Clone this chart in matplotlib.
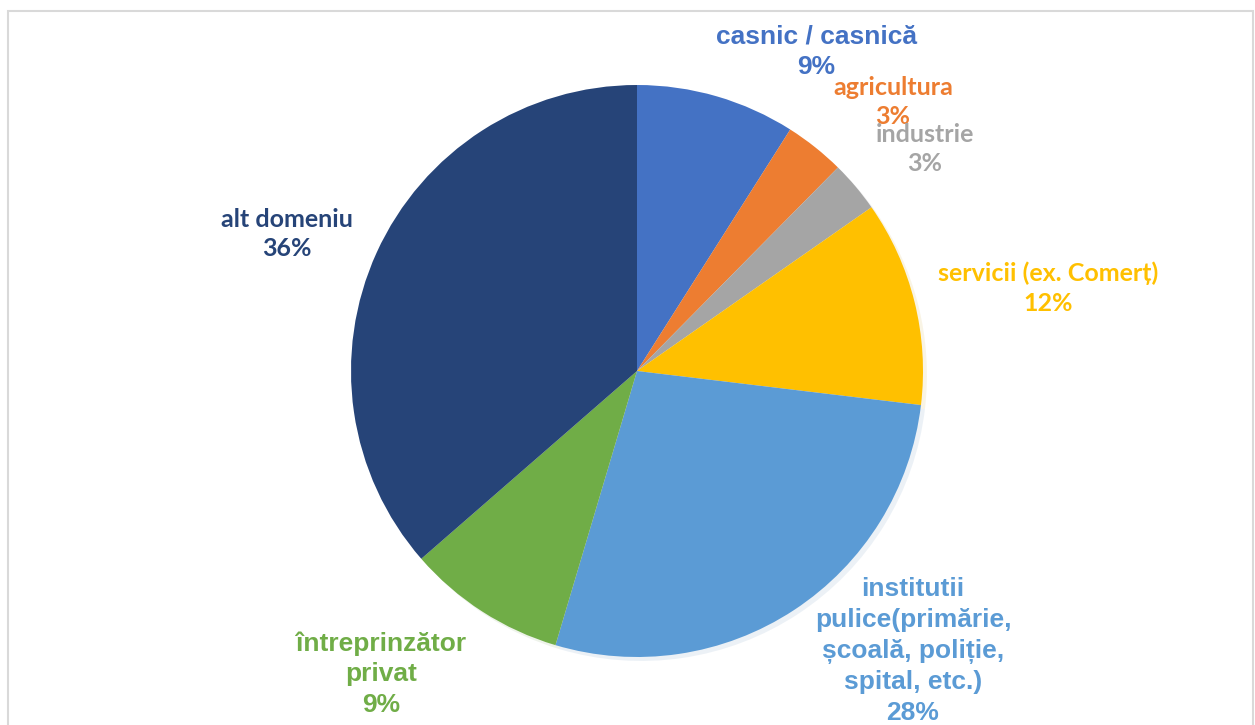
import matplotlib
matplotlib.use("Agg")
import matplotlib.pyplot as plt
from matplotlib.patches import Rectangle

categories = ["casnic / casnică", "agricultura", "industrie", "servicii (ex. Comerț)",
              "institutii\npulice(primărie,\nșcoală, poliție,\nspital, etc.)",
              "întreprinzător\nprivat", "alt domeniu"]
values = [9.0, 3.4, 2.9, 11.6, 27.7, 9.0, 36.4]
colors = ["#4472C4", "#ED7D31", "#A5A5A5", "#FFC000", "#5B9BD5", "#70AD47", "#264478"]
fonts = ["Liberation Sans", "Lato", "Lato", "Lato",
         "Liberation Sans", "Liberation Sans", "Lato"]
sizes = [19, 18, 18, 18, 19, 19, 18]

W, H = 1255, 725
fig = plt.figure(figsize=(W / 100, H / 100), dpi=100)
fig.patches.append(Rectangle((8 / W, -0.05), (1253 - 8) / W, 1 - 11 / H + 0.05,
                             transform=fig.transFigure, fill=False,
                             edgecolor="#D9D9D9", linewidth=1.5))

cx, cy, r = 637, 371, 286
ax = fig.add_axes([(cx - r) / W, (H - cy - r) / H, 2 * r / W, 2 * r / H])
ax.pie(values, colors=colors, startangle=90, counterclock=False, radius=1,
       wedgeprops=dict(linewidth=0),
       shadow=dict(ox=0.01, oy=-0.01, shade=0.2, alpha=0.1))
ax.set_xlim(-1, 1)
ax.set_ylim(-1, 1)
ax.set_aspect("equal")
ax.axis("off")

# label block centres in pixels (layout)
label_px = [(816, 52), (893, 102), (925, 149), (1048, 288), (913, 651), (381, 674), (287, 234)]
total = sum(values)
for cat, v, col, fnt, fs, (px, py) in zip(categories, values, colors, fonts, sizes, label_px):
    txt = f"{cat}\n{round(v / total * 100):.0f}%"
    fig.text(px / W, 1 - py / H, txt, ha="center", va="center", color=col,
             fontsize=fs, fontweight="bold", family=[fnt, "DejaVu Sans"],
             linespacing=1.35)

fig.savefig("out.png", dpi=100)
